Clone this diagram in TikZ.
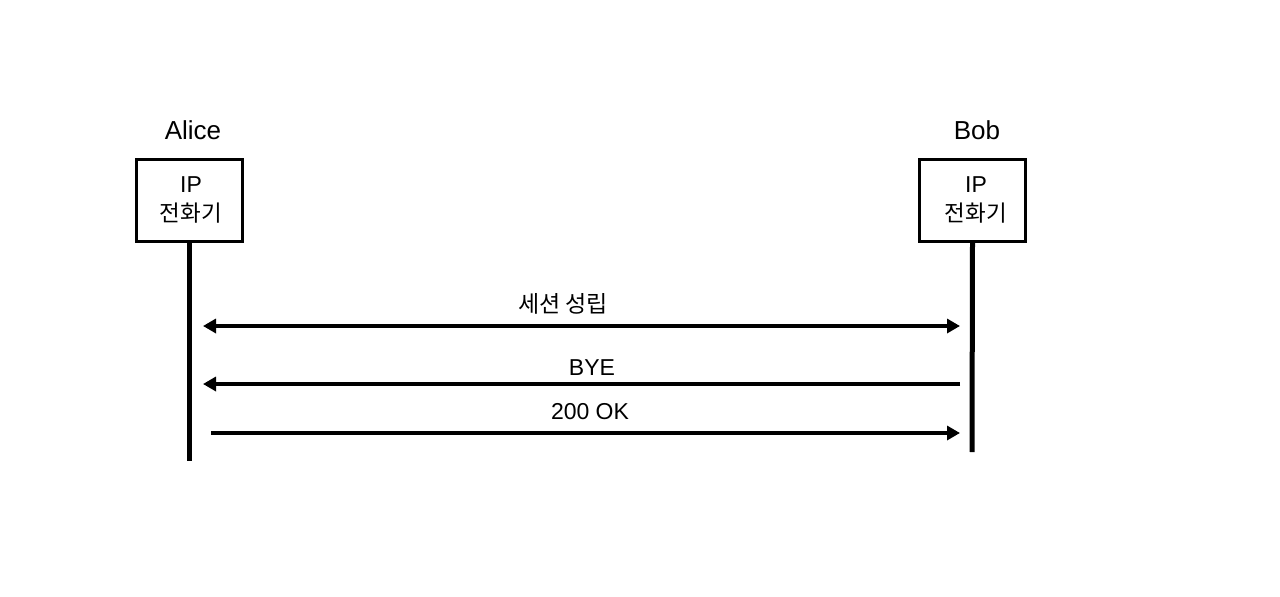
\documentclass[tikz,border=0pt]{standalone}
\usepackage{fontspec}
\setmainfont{Liberation Sans}
\newfontfamily\kr{Noto Sans CJK KR}
\usetikzlibrary{arrows.meta}
\begin{document}
\begin{tikzpicture}[x=1pt,y=-1pt,
  txt/.style={font=\fontsize{26}{30}\selectfont, inner sep=0pt},
  lbl/.style={font=\fontsize{23}{28}\selectfont, inner sep=0pt},
  phone/.style={draw, line width=3pt, minimum width=106pt, minimum height=82pt, inner sep=0pt},
  intxt/.style={inner sep=0pt, align=center, font=\fontsize{23}{29}\selectfont},
  life/.style={line width=5pt},
  msg/.style={line width=4pt, -{Triangle[length=13pt,width=14pt]}},
  msgb/.style={line width=4pt, {Triangle[length=13pt,width=14pt]}-{Triangle[length=13pt,width=14pt]}}]
\useasboundingbox (0,0) rectangle (1280,597);
\node[txt] (alice) at (193,130) {Alice};
\node[txt] (bob) at (977,130) {Bob};
\node[phone] (pa) at (189,200) {};
\node[phone] (pb) at (972.5,200) {};
\node[intxt] (ta) at (191,200) {IP\\{\kr\fontsize{22.5}{29}\selectfont 전화기}};
\node[intxt] (tb) at (976,200) {IP\\{\kr\fontsize{22.5}{29}\selectfont 전화기}};
\coordinate (ea) at (189,461);
\coordinate (eb) at (972,452);
\draw[life] (pa.south) -- (ea);
\draw[life] (pb.south) -- (eb);
\coordinate (a1) at (203,326); \coordinate (b1) at (960,326);
\coordinate (a2) at (203,384); \coordinate (b2) at (960,384);
\coordinate (a3) at (211,433); \coordinate (b3) at (960,433);
\draw[msgb] (a1) -- (b1);
\draw[msg] (b2) -- (a2);
\draw[msg] (a3) -- (b3);
\node[lbl] (l1) at (563,304) {\kr 세션 성립};
\node[lbl] (l2) at (592,368) {BYE};
\node[lbl] (l3) at (590,412) {200 OK};
\end{tikzpicture}
\end{document}
